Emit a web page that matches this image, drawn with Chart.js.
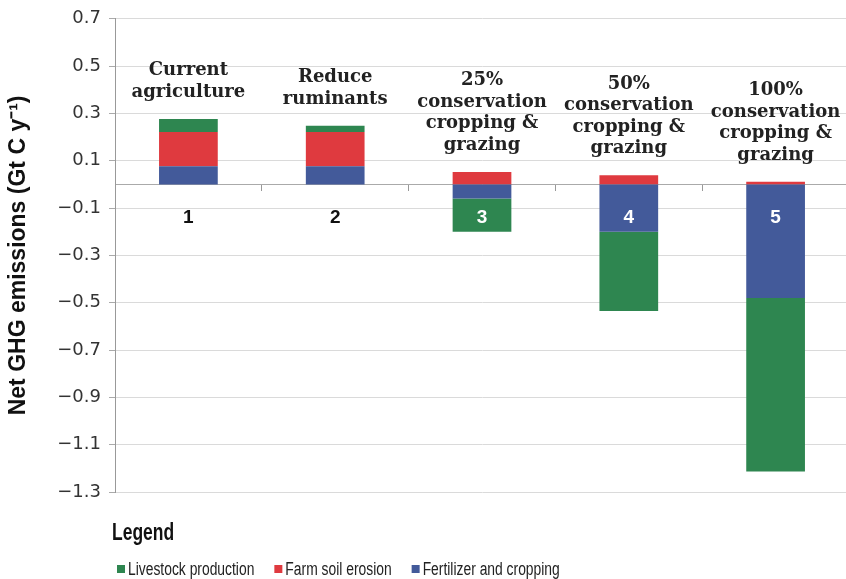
<!DOCTYPE html>
<html>
<head>
<meta charset="utf-8">
<script src="https://cdn.jsdelivr.net/npm/chart.js@4.4.1/dist/chart.umd.min.js"></script>
<style>
  body { margin: 0; overflow: hidden; background: #fff; }
  #wrap { width: 850px; height: 579px; }
</style>
</head>
<body>
<div id="wrap"><canvas id="ghgChart"></canvas></div>
<script>
// scenario titles shown above each bar, plus the number under the zero line
const scenarios = [
  ['Current', 'agriculture'],
  ['Reduce', 'ruminants'],
  ['25%', 'conservation', 'cropping &', 'grazing'],
  ['50%', 'conservation', 'cropping &', 'grazing'],
  ['100%', 'conservation', 'cropping &', 'grazing'],
];
const scenarioNumbers = ['1', '2', '3', '4', '5'];

// Gt C per year
const fertilizerCropping = [0.077, 0.077, -0.059, -0.2, -0.48];
const farmSoilErosion = [0.145, 0.145, 0.053, 0.039, 0.011];
const livestockProduction = [0.055, 0.026, -0.141, -0.335, -0.733];

const yMin = -1.3;
const yMax = 0.7;
const yStep = 0.2;

const GREEN = '#2e8650';
const RED = '#df3a3f';
const BLUE = '#435a9a';

const labelsPlugin = {
  id: 'scenarioLabels',
  afterDatasetsDraw(chart) {
    const { ctx, scales: { x, y } } = chart;
    ctx.save();
    ctx.textAlign = 'center';
    scenarios.forEach((lines, i) => {
      const vals = chart.data.datasets.map(ds => ds.data[i]);
      const posSum = vals.filter(v => v > 0).reduce((a, b) => a + b, 0);
      const negSum = vals.filter(v => v < 0).reduce((a, b) => a + b, 0);
      const cx = x.getPixelForValue(i);

      // title above the positive stack
      ctx.font = 'bold 18px "DejaVu Serif", serif';
      ctx.fillStyle = '#222';
      ctx.textBaseline = 'alphabetic';
      const top = y.getPixelForValue(posSum);
      lines.slice().reverse().forEach((line, k) => {
        ctx.fillText(line, cx, top - 22 - k * 21.5);
      });

      // number just below zero
      ctx.font = 'bold 19px "Liberation Sans", Arial, sans-serif';
      ctx.textBaseline = 'middle';
      ctx.fillStyle = negSum < -0.17 ? '#fff' : '#111';
      ctx.fillText(scenarioNumbers[i], cx, y.getPixelForValue(-0.14));
    });
    ctx.restore();
  },
};

// squeeze text horizontally, the original legend uses a condensed face
function condensedText(ctx, text, x, y, squeeze) {
  ctx.save();
  ctx.translate(x, y);
  ctx.scale(squeeze, 1);
  ctx.fillText(text, 0, 0);
  ctx.restore();
  return ctx.measureText(text).width * squeeze;
}

const legendPlugin = {
  id: 'bottomLegend',
  afterDraw(chart) {
    const { ctx } = chart;
    ctx.save();
    ctx.fillStyle = '#111';
    ctx.textBaseline = 'middle';
    ctx.textAlign = 'left';
    ctx.font = 'bold 23px "Liberation Sans", Arial, sans-serif';
    condensedText(ctx, 'Legend', 112, 534, 0.76);

    ctx.font = '18px "Liberation Sans", Arial, sans-serif';
    let lx = 117;
    chart.data.datasets.slice().reverse().forEach(ds => {
      ctx.fillStyle = ds.backgroundColor;
      ctx.fillRect(lx, 565, 8, 8);
      ctx.fillStyle = '#222';
      const w = condensedText(ctx, ds.label, lx + 11, 570, 0.77);
      lx += 11 + w + 20;
    });
    ctx.restore();
  },
};

new Chart(document.getElementById('ghgChart'), {
  type: 'bar',
  data: {
    labels: scenarioNumbers,
    datasets: [
      { label: 'Fertilizer and cropping', data: fertilizerCropping, backgroundColor: BLUE },
      { label: 'Farm soil erosion', data: farmSoilErosion, backgroundColor: RED },
      { label: 'Livestock production', data: livestockProduction, backgroundColor: GREEN },
    ],
  },
  options: {
    responsive: true,
    maintainAspectRatio: false,
    animation: false,
    datasets: {
      bar: { barPercentage: 0.4, categoryPercentage: 1, borderWidth: 0 },
    },
    layout: { padding: { top: 17, right: 1, bottom: 87, left: 0 } },
    plugins: {
      legend: { display: false },
      tooltip: { enabled: false },
    },
    scales: {
      x: {
        stacked: true,
        position: { y: 0 },
        ticks: { display: false },
        grid: { drawOnChartArea: false, tickLength: 6, tickColor: '#999' },
        border: { color: '#aaa' },
        afterFit(scale) { scale.height = 0; },
      },
      y: {
        stacked: true,
        min: yMin,
        max: yMax,
        ticks: {
          stepSize: yStep,
          padding: 8,
          color: '#333',
          font: { family: '"DejaVu Sans", sans-serif', size: 18 },
          callback: v => v.toFixed(1).replace('-', '\u2212'),
        },
        grid: {
          color: c => (c.tick && c.tick.value === 0 ? '#aaa' : '#dadada'),
          tickColor: '#aaa',
          tickLength: 6,
        },
        border: { color: '#999' },
        title: {
          display: true,
          text: 'Net GHG emissions (Gt C y\u207B\u00B9)',
          color: '#111',
          font: { family: '"Liberation Sans", Arial, sans-serif', size: 23, weight: 'bold' },
          padding: { top: 5, bottom: 6 },
        },
        afterFit(scale) { scale.width = 115; },
      },
    },
  },
  plugins: [labelsPlugin, legendPlugin],
});
</script>
</body>
</html>
